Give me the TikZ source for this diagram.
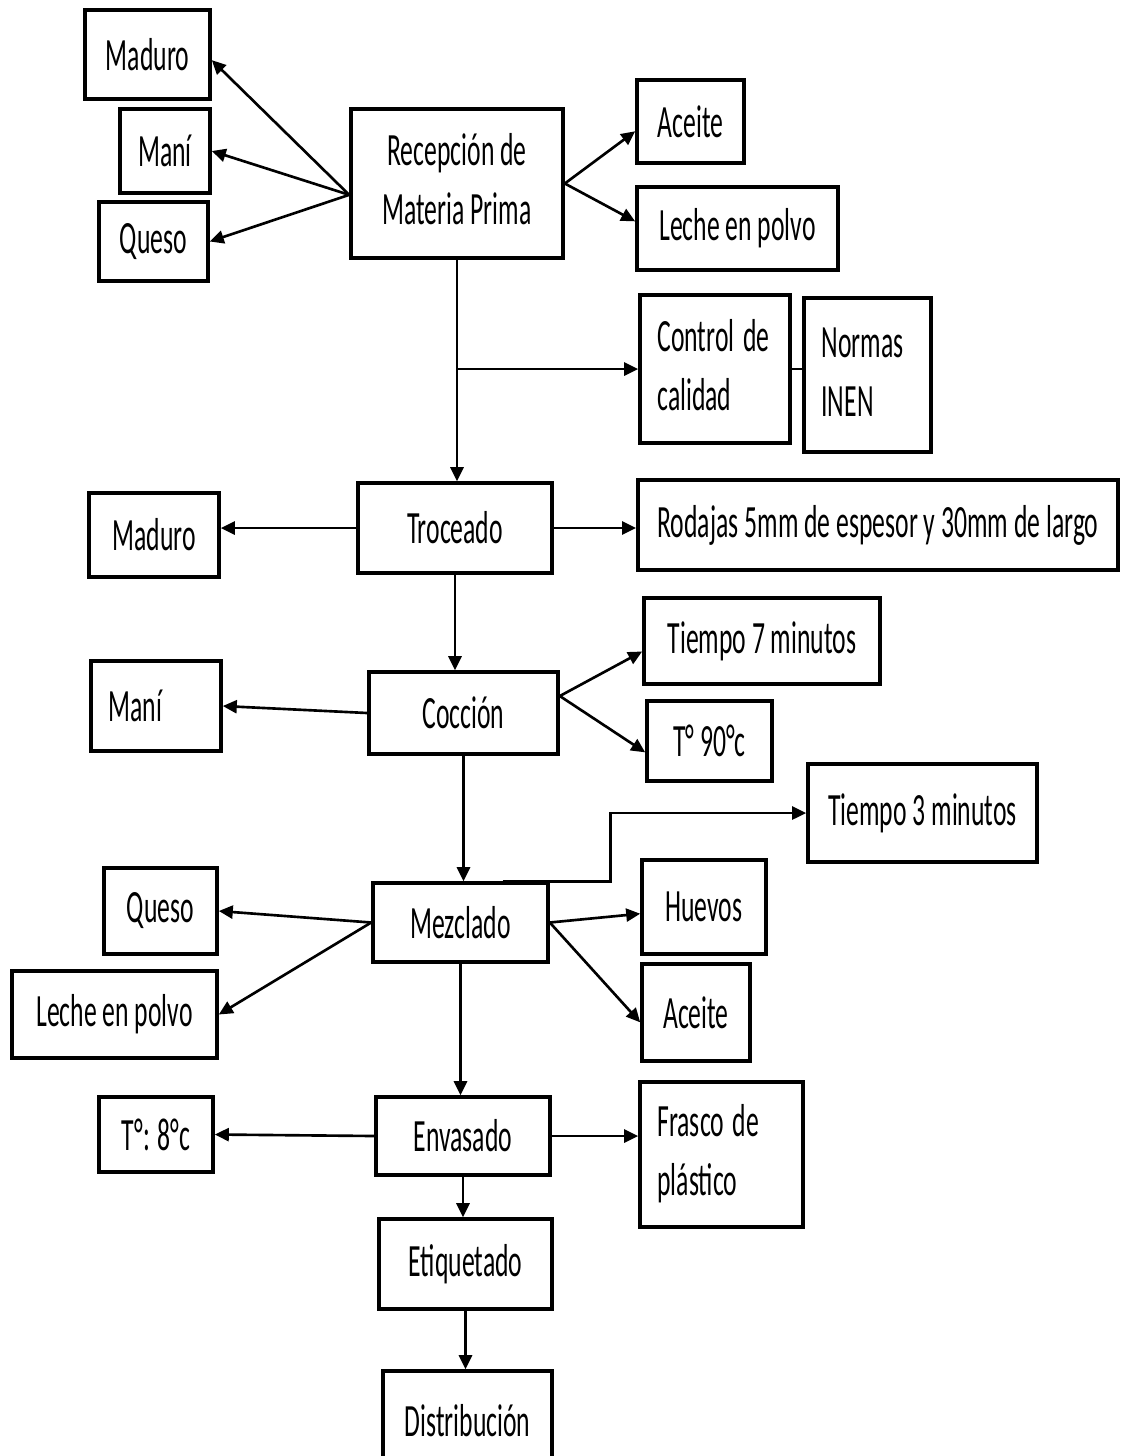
\documentclass[tikz,border=0pt]{standalone}
\usepackage{fontspec}
\usepackage{graphicx}
\setmainfont{Carlito}
\usetikzlibrary{arrows.meta,calc}
\newcommand{\alto}[1]{\scalebox{1}[1.8]{#1}}
\begin{document}
\begin{tikzpicture}[x=0.01cm,y=-0.01cm,
    caja/.style={draw,line width=1pt,inner sep=0pt,font=\fontsize{7.3}{9.3}\selectfont},
    izq/.style={align=left,inner xsep=1.75mm},
    flecha/.style={-{Triangle[length=1.4mm,width=1.3mm]},line width=0.75pt},
    linea/.style={line width=0.75pt}]
  \useasboundingbox (0,0) rectangle (1120,1456);
  \node[caja,minimum width=12.5mm,minimum height=8.9mm] (mad1) at (147.5,54.5) {\alto{Maduro}};
  \node[caja,minimum width=9mm,minimum height=8.4mm] (mani1) at (165,151) {\alto{Maní}};
  \node[caja,minimum width=10.9mm,minimum height=7.9mm] (queso1) at (153.5,241.5) {\alto{Queso}};
  \node[caja,minimum width=21.2mm,minimum height=14.9mm] (rec) at (457,183.5)
    {\alto{\begin{tabular}{@{}c@{}}Recepción de\\Materia Prima\end{tabular}}};
  \node[caja,minimum width=10.7mm,minimum height=8.3mm] (ace1) at (690.5,121.5) {\alto{Aceite}};
  \node[caja,minimum width=20.1mm,minimum height=8.3mm] (leche1) at (737.5,228.5) {\alto{Leche en polvo}};
  \node[caja,izq,text width=11.5mm,minimum height=14.8mm] (ctrl) at (715,369)
    {\alto{\begin{tabular}{@{}l@{}}Control de\\calidad\end{tabular}}};
  \node[caja,izq,text width=9.2mm,minimum height=15.4mm] (normas) at (867.5,375)
    {\alto{\begin{tabular}{@{}l@{}}Normas\\INEN\end{tabular}}};
  \node[caja,minimum width=19.4mm,minimum height=9mm] (troc) at (455,528) {\alto{Troceado}};
  \node[caja,minimum width=13mm,minimum height=8.4mm] (mad2) at (154,535) {\alto{Maduro}};
  \node[caja,minimum width=48mm,minimum height=9mm] (rod) at (878,525)
    {\alto{Rodajas 5mm de espesor y 30mm de largo}};
  \node[caja,minimum width=18.9mm,minimum height=8.2mm] (cocc) at (463.5,713) {\alto{Cocción}};
  \node[caja,izq,text width=9.5mm,minimum height=9mm] (mani2) at (156,706) {\alto{Maní}};
  \node[caja,minimum width=23.6mm,minimum height=8.6mm] (t7) at (762,641) {\alto{Tiempo 7 minutos}};
  \node[caja,minimum width=12.5mm,minimum height=8mm] (t90) at (709.5,741) {\alto{T° 90°c}};
  \node[caja,minimum width=22.9mm,minimum height=9.8mm] (t3) at (922.5,813) {\alto{Tiempo 3 minutos}};
  \node[caja,minimum width=17.5mm,minimum height=7.9mm] (mez) at (460.5,922.5) {\alto{Mezclado}};
  \node[caja,minimum width=11.3mm,minimum height=8.6mm] (queso2) at (160.5,911) {\alto{Queso}};
  \node[caja,minimum width=20.5mm,minimum height=8.7mm] (leche2) at (114.5,1014.5) {\alto{Leche en polvo}};
  \node[caja,minimum width=12.4mm,minimum height=9.4mm] (huev) at (704,907) {\alto{Huevos}};
  \node[caja,minimum width=10.8mm,minimum height=9.7mm] (ace2) at (696,1012.5) {\alto{Aceite}};
  \node[caja,minimum width=17.4mm,minimum height=7.8mm] (env) at (463,1136) {\alto{Envasado}};
  \node[caja,minimum width=11.4mm,minimum height=7.5mm] (t8) at (156,1134.5) {\alto{T°: 8°c}};
  \node[caja,izq,text width=12.8mm,minimum height=14.5mm] (fras) at (721.5,1154.5)
    {\alto{\begin{tabular}{@{}l@{}}Frasco de\\plástico\end{tabular}}};
  \node[caja,minimum width=17.3mm,minimum height=9mm] (etiq) at (465.5,1264) {\alto{Etiquetado}};
  \node[caja,minimum width=16.9mm,minimum height=9.9mm] (dist) at (467.5,1420.5) {\alto{Distribución}};

  \draw[flecha] (rec.186) -- (mad1.-5);
  \draw[flecha] (rec.186) -- (mani1.east);
  \draw[flecha] (rec.186) -- (queso1.east);
  \draw[flecha] (rec.east) -- (ace1.190);
  \draw[flecha] (rec.east) -- (leche1.176);
  \draw[flecha] (rec.south) -- (rec.south |- troc.north);
  \draw[flecha] (rec.south |- ctrl.west) -- (ctrl.west);
  \draw[linea] (ctrl.east) -- (ctrl.east -| normas.west);
  \draw[flecha] (troc.west) -- (troc.west -| mad2.east);
  \draw[flecha] (troc.east) -- (troc.east -| rod.west);
  \draw[flecha] (troc.south) -- (troc.south |- cocc.north);
  \draw[flecha] (cocc.west) -- (mani2.east);
  \draw[flecha] (cocc.10) -- (t7.185);
  \draw[flecha] (cocc.10) -- (t90.190);
  \draw[flecha] (cocc.south) -- (cocc.south |- mez.north);
  \draw[flecha] ($(mez.north)+(42,0)$) -- ++(108,0) |- (t3.west);
  \draw[flecha] (mez.west) -- (queso2.east);
  \draw[flecha] (mez.west) -- (leche2.east);
  \draw[flecha] (mez.east) -- (huev.186);
  \draw[flecha] (mez.east) -- (ace2.190);
  \draw[flecha] (mez.south) -- (mez.south |- env.north);
  \draw[flecha] (env.west) -- (t8.east);
  \draw[flecha] (env.east) -- (env.east -| fras.west);
  \draw[flecha] (env.south) -- (env.south |- etiq.north);
  \draw[flecha] (etiq.south) -- (etiq.south |- dist.north);
\end{tikzpicture}
\end{document}
